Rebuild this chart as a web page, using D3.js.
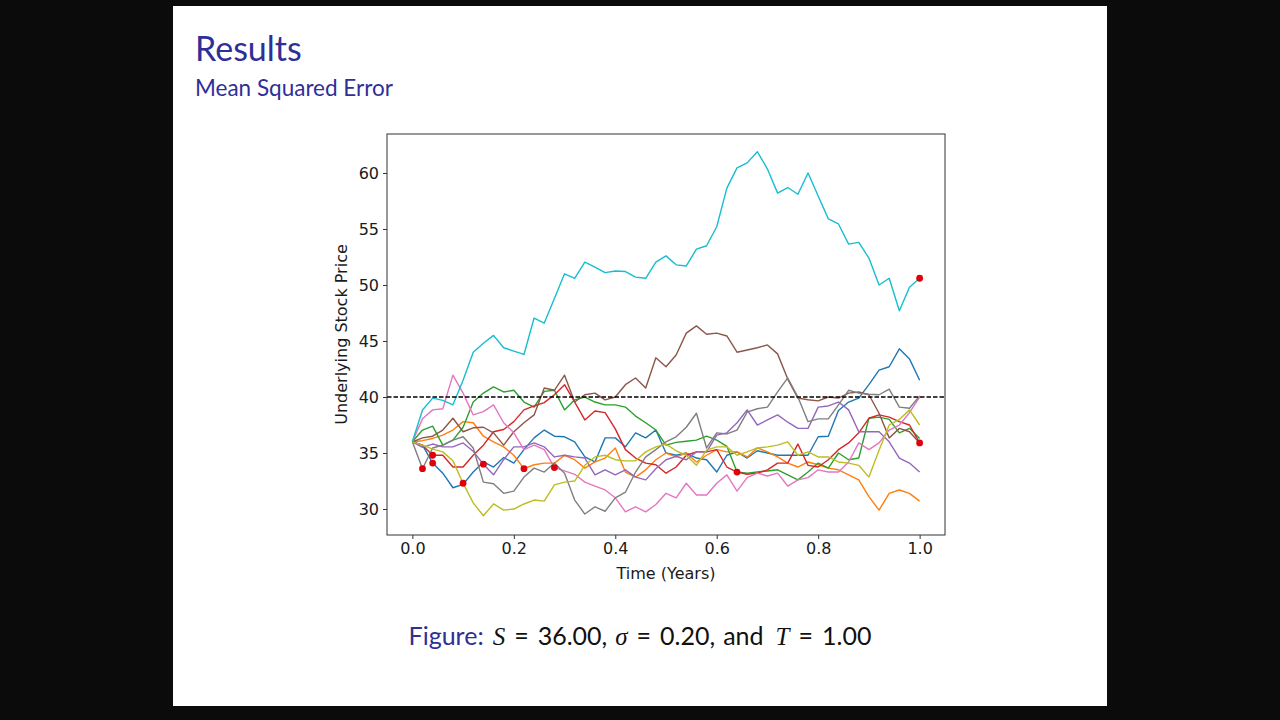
<!DOCTYPE html>
<html lang="en">
  <head>
    <meta charset="UTF-8" />
    <title>Results</title>
    <style>
      html, body { margin: 0; padding: 0; background: #0b0b0b; }
      #svg { display: block; }
    </style>
  </head>
  <body>
    <svg id="svg" width="1280" height="720"></svg>

    <script src="https://cdn.jsdelivr.net/npm/d3@7"></script>
    <script>
      const WIDTH = 1280;
      const HEIGHT = 720;

      // time grid, 50 steps over one year
      const times = [
        0.0, 0.02, 0.04, 0.06, 0.08, 0.1, 0.12, 0.14, 0.16, 0.18,
        0.2, 0.22, 0.24, 0.26, 0.28, 0.3, 0.32, 0.34, 0.36, 0.38,
        0.4, 0.42, 0.44, 0.46, 0.48, 0.5, 0.52, 0.54, 0.56, 0.58,
        0.6, 0.62, 0.64, 0.66, 0.68, 0.7, 0.72, 0.74, 0.76, 0.78,
        0.8, 0.82, 0.84, 0.86, 0.88, 0.9, 0.92, 0.94, 0.96, 0.98, 1.0
      ];

      const blue = [36.0, 35.7, 34.1, 33.2, 31.9, 32.2, 33.3, 34.2, 33.75, 34.6,
        34.1, 35.3, 36.35, 37.05, 36.5, 36.45, 36.0, 34.65, 34.2, 36.35,
        36.35, 35.55, 36.8, 36.35, 37.05, 35.0, 34.8, 35.0, 34.55, 34.4,
        33.3, 34.8, 35.1, 34.55, 35.2, 35.0, 34.8, 34.8, 34.8, 34.8,
        36.45, 36.5, 38.8, 39.55, 39.9, 41.1, 42.4, 42.7, 44.3, 43.4, 41.5];
      const orange = [36.0, 36.1, 36.3, 36.6, 37.05, 37.8, 37.7, 36.5, 36.0, 35.55,
        34.8, 33.6, 33.95, 34.1, 34.1, 34.8, 34.4, 33.65, 34.2, 34.55,
        35.45, 33.3, 32.85, 33.5, 34.4, 35.0, 34.65, 35.0, 34.2, 34.8,
        35.3, 35.1, 35.1, 34.65, 35.45, 35.1, 34.65, 34.1, 33.75, 34.2,
        33.95, 33.65, 33.5, 33.05, 32.6, 31.1, 29.9, 31.4, 31.7, 31.4, 30.7];
      const green = [36.0, 37.05, 37.4, 35.7, 36.15, 37.3, 39.55, 40.35, 40.9, 40.45,
        40.6, 39.55, 39.1, 40.5, 40.6, 38.85, 39.75, 40.0, 39.55, 39.3,
        39.3, 39.1, 38.3, 37.7, 37.05, 35.7, 35.95, 36.05, 36.15, 36.5,
        36.15, 35.6, 33.3, 33.2, 33.3, 33.4, 33.5, 33.05, 32.6, 33.3,
        34.1, 33.65, 35.0, 34.4, 34.55, 38.1, 38.2, 38.0, 36.8, 37.2, 36.3];
      const red = [36.0, 35.7, 34.8, 34.8, 33.75, 33.75, 34.8, 35.7, 36.9, 37.1,
        37.8, 38.85, 39.2, 39.5, 40.2, 41.1, 39.55, 37.95, 38.75, 38.6,
        37.15, 35.3, 34.55, 34.1, 33.95, 33.2, 33.75, 34.8, 35.1, 35.1,
        35.3, 33.75, 33.3, 33.1, 33.2, 33.5, 34.1, 34.1, 35.8, 33.9,
        33.75, 34.4, 35.3, 35.9, 36.8, 38.1, 38.4, 38.2, 37.8, 37.5, 35.9];
      const purple = [36.0, 35.5, 35.8, 35.55, 35.55, 35.9, 35.15, 34.0, 33.05, 34.4,
        35.55, 35.55, 35.9, 35.55, 34.65, 34.8, 34.65, 34.55, 33.05, 33.5,
        33.05, 33.5, 32.85, 32.6, 33.6, 34.4, 34.7, 34.4, 35.1, 35.1,
        36.6, 36.8, 37.7, 38.85, 37.5, 37.95, 38.4, 37.75, 37.2, 37.2,
        39.1, 39.2, 39.55, 38.85, 36.9, 36.9, 36.9, 36.0, 34.55, 34.1, 33.3];
      const brown = [36.0, 36.35, 36.5, 37.05, 38.1, 36.9, 37.25, 37.3, 36.8, 35.7,
        36.9, 37.7, 38.4, 40.8, 40.6, 41.95, 39.55, 40.2, 40.35, 39.75,
        40.0, 41.1, 41.7, 40.8, 43.5, 42.7, 43.75, 45.7, 46.35, 45.6,
        45.7, 45.45, 44.0, 44.2, 44.4, 44.65, 43.85, 41.6, 39.9, 39.75,
        39.65, 40.0, 39.9, 40.35, 40.45, 40.2, 38.55, 36.35, 37.2, 36.9, 35.9];
      const pink = [36.0, 38.05, 38.85, 38.95, 41.95, 40.35, 38.4, 38.7, 39.3, 37.7,
        36.8, 35.3, 35.7, 35.3, 33.7, 33.4, 33.1, 32.4, 32.05, 31.7,
        31.0, 29.75, 30.2, 29.75, 30.4, 31.4, 31.0, 32.3, 31.25, 31.25,
        32.3, 33.05, 31.6, 32.8, 33.2, 32.95, 33.2, 32.05, 32.6, 32.8,
        33.5, 33.3, 33.3, 34.2, 35.9, 35.3, 35.9, 37.05, 37.5, 38.6, 40.0];
      const gray = [36.0, 33.6, 35.45, 35.7, 36.15, 36.45, 35.45, 32.4, 32.25, 31.4,
        31.6, 32.85, 33.65, 33.3, 34.1, 33.2, 30.8, 29.55, 30.2, 29.8,
        31.0, 31.5, 33.3, 34.65, 35.3, 36.0, 36.45, 37.3, 38.55, 35.45,
        36.8, 36.7, 37.05, 38.65, 38.95, 39.1, 40.45, 41.7, 40.0, 37.8,
        38.05, 38.05, 39.3, 40.6, 40.35, 40.25, 40.2, 40.7, 39.1, 39.0, 40.1];
      const olive = [36.0, 35.7, 35.35, 35.1, 34.3, 32.3, 30.55, 29.4, 30.45, 29.9,
        30.0, 30.45, 30.8, 30.7, 32.15, 32.4, 32.5, 33.9, 34.65, 34.8,
        34.4, 34.3, 34.3, 35.1, 35.55, 35.8, 35.2, 34.8, 33.9, 35.25,
        35.55, 35.55, 34.8, 35.1, 35.45, 35.55, 35.7, 36.0, 34.8, 35.1,
        34.65, 34.65, 34.2, 34.1, 33.9, 32.85, 35.25, 37.5, 38.0, 38.85, 37.5];
      const cyan = [36.0, 38.84, 39.9, 39.7, 39.3, 41.5, 44.0, 44.8, 45.5, 44.4,
        44.1, 43.8, 47.05, 46.6, 48.8, 51.0, 50.6, 52.05, 51.6, 51.1,
        51.25, 51.2, 50.7, 50.6, 52.05, 52.6, 51.8, 51.7, 53.2, 53.5,
        55.2, 58.65, 60.45, 60.9, 61.9, 60.35, 58.2, 58.7, 58.1, 60.0,
        57.95, 55.9, 55.45, 53.65, 53.8, 52.4, 50.0, 50.6, 47.7, 49.8, 50.6];

      const paths = [blue, orange, green, red, purple, brown, pink, gray, olive, cyan];
      const pathColors = ["#1f77b4", "#ff7f0e", "#2ca02c", "#d62728", "#9467bd",
        "#8c564b", "#e377c2", "#7f7f7f", "#bcbd22", "#17becf"];

      // exercise points (time, price)
      const exerciseTimes = [0.02, 0.04, 0.04, 0.1, 0.14, 0.22, 0.28, 0.64, 1.0, 1.0];
      const exercisePrices = [33.6, 34.8, 34.1, 32.3, 34.0, 33.6, 33.7, 33.3, 35.9, 50.6];

      const strike = 40;
      const xTicks = [0.0, 0.2, 0.4, 0.6, 0.8, 1.0];
      const yTicks = [30, 35, 40, 45, 50, 55, 60];

      const svg = d3.select("#svg");
      const BLUE_TEXT = "#2f2f96";
      const SANS = "Lato, 'Open Sans', sans-serif";
      const MPL = "'DejaVu Sans', sans-serif";

      // slide
      svg.append("rect")
        .attr("x", 173).attr("y", 6)
        .attr("width", 934).attr("height", 700)
        .attr("fill", "#ffffff");

      svg.append("text")
        .attr("x", 195).attr("y", 61)
        .attr("font-family", SANS)
        .attr("font-size", 34)
        .attr("fill", BLUE_TEXT)
        .text("Results");

      svg.append("text")
        .attr("x", 195).attr("y", 96)
        .attr("font-family", SANS)
        .attr("font-size", 22.5)
        .attr("fill", BLUE_TEXT)
        .text("Mean Squared Error");

      // plot box
      const PLOT_L = 387, PLOT_R = 945, PLOT_T = 134, PLOT_B = 535;
      const xScale = d3.scaleLinear().domain([-0.05, 1.05]).range([PLOT_L, PLOT_R]);
      const yScale = d3.scaleLinear().domain([27.68, 63.48]).range([PLOT_B, PLOT_T]);

      const lineGen = d3.line()
        .x((d, i) => xScale(times[i]))
        .y((d) => yScale(d));

      const graph = svg.append("g");
      graph.selectAll("path.sim")
        .data(paths)
        .enter()
        .append("path")
        .attr("class", "sim")
        .attr("d", (d) => lineGen(d))
        .attr("fill", "none")
        .attr("stroke", (d, i) => pathColors[i])
        .attr("stroke-width", 1.4)
        .attr("stroke-linejoin", "round");

      graph.append("line")
        .attr("x1", PLOT_L).attr("x2", PLOT_R)
        .attr("y1", yScale(strike)).attr("y2", yScale(strike))
        .attr("stroke", "#000")
        .attr("stroke-width", 1.3)
        .attr("stroke-dasharray", "4.5,2");

      graph.selectAll("circle")
        .data(exerciseTimes)
        .enter()
        .append("circle")
        .attr("cx", (d) => xScale(d))
        .attr("cy", (d, i) => yScale(exercisePrices[i]))
        .attr("r", 3.4)
        .attr("fill", "#e0000b");

      const bottomAxis = d3.axisBottom(xScale)
        .tickValues(xTicks)
        .tickFormat(d3.format(".1f"))
        .tickSizeInner(4).tickSizeOuter(0).tickPadding(4);
      const leftAxis = d3.axisLeft(yScale)
        .tickValues(yTicks)
        .tickFormat(d3.format("d"))
        .tickSizeInner(4).tickSizeOuter(0).tickPadding(4);

      const gx = svg.append("g")
        .attr("transform", `translate(0, ${PLOT_B})`)
        .call(bottomAxis);
      const gy = svg.append("g")
        .attr("transform", `translate(${PLOT_L}, 0)`)
        .call(leftAxis);
      [gx, gy].forEach((g) => {
        g.select(".domain").remove();
        g.selectAll("text")
          .attr("font-family", MPL)
          .attr("font-size", 16)
          .attr("fill", "#1a1a1a");
        g.selectAll("line").attr("stroke", "#333");
      });

      // frame
      svg.append("rect")
        .attr("x", PLOT_L).attr("y", PLOT_T)
        .attr("width", PLOT_R - PLOT_L).attr("height", PLOT_B - PLOT_T)
        .attr("fill", "none")
        .attr("stroke", "#333")
        .attr("stroke-width", 1);

      svg.append("text")
        .attr("x", (PLOT_L + PLOT_R) / 2).attr("y", 579)
        .attr("text-anchor", "middle")
        .attr("font-family", MPL)
        .attr("font-size", 16)
        .attr("fill", "#1a1a1a")
        .text("Time (Years)");

      svg.append("text")
        .attr("transform", `translate(347, ${(PLOT_T + PLOT_B) / 2}) rotate(-90)`)
        .attr("text-anchor", "middle")
        .attr("font-family", MPL)
        .attr("font-size", 16)
        .attr("fill", "#1a1a1a")
        .text("Underlying Stock Price");

      // caption, math parts in italics with wider spacing around "="
      const capParts = [
        { t: "Figure:", fill: BLUE_TEXT, dx: 0 },
        { t: "S", italic: true, dx: 9 },
        { t: "=", dx: 9 },
        { t: "36.00,", dx: 9 },
        { t: "σ", italic: true, dx: 8 },
        { t: "=", dx: 9 },
        { t: "0.20,", dx: 9 },
        { t: "and", dx: 8 },
        { t: "T", italic: true, dx: 12 },
        { t: "=", dx: 9 },
        { t: "1.00", dx: 9 }
      ];
      const cap = svg.append("text")
        .attr("x", 640).attr("y", 645)
        .attr("text-anchor", "middle")
        .attr("font-family", SANS)
        .attr("font-size", 25)
        .attr("fill", "#111");
      capParts.forEach((p) => {
        const ts = cap.append("tspan").attr("dx", p.dx).text(p.t);
        if (p.fill) ts.attr("fill", p.fill);
        if (p.italic) ts.attr("font-style", "italic").attr("font-family", "'Liberation Serif', serif");
      });
    </script>
  </body>
</html>
